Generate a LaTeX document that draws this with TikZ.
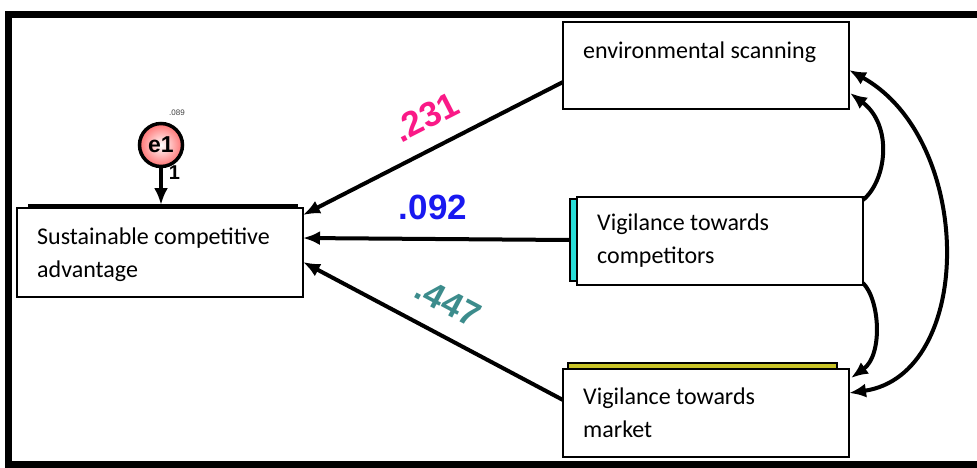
\documentclass[tikz,border=0pt]{standalone}
\usepackage{fontspec}
\setmainfont{Carlito}
\newfontfamily\arialf{Liberation Sans}
\usetikzlibrary{arrows.meta,calc}
\definecolor{pinklbl}{RGB}{250,25,135}
\definecolor{bluelbl}{RGB}{25,25,240}
\definecolor{teallbl}{RGB}{60,140,140}
\definecolor{cyanbar}{RGB}{40,220,215}
\definecolor{olivebar}{RGB}{200,195,40}
\begin{document}
\begin{tikzpicture}[x=1pt,y=-1pt,
  box/.style={draw=black,line width=1.8pt,fill=white,inner sep=0pt,outer sep=0pt},
  boxtext/.style={anchor=base west,inner sep=0pt,font=\fontsize{24}{33}\selectfont,align=left},
  path/.style={line width=4pt,-{Latex[length=17pt,width=14pt]}},
  cov/.style={line width=4pt,{Latex[length=17pt,width=14pt]}-{Latex[length=17pt,width=14pt]}},
  lbl/.style={font=\arialf\bfseries\fontsize{35}{35}\selectfont,inner sep=0pt}]
\useasboundingbox (0,0) rectangle (977,467);
\fill[white] (0,0) rectangle (977,467);
\draw[line width=7pt] (990,14) -- (8.5,14) -- (8.5,464) -- (990,464);

% boxes
\fill[black] (28,204) rectangle (298,209);
\node[box,minimum width=286pt,minimum height=89pt] (sca) at (160,252.5) {};
\node[box,minimum width=286pt,minimum height=87pt] (env) at (706,65.5) {};
\draw[line width=1.8pt,fill=cyanbar] (570,199) rectangle (577,281);
\node[box,minimum width=286pt,minimum height=88pt] (vc) at (720,241) {};
\draw[line width=1.8pt,fill=olivebar] (568,363) rectangle (837,369);
\node[box,minimum width=286pt,minimum height=88pt] (vm) at (706,413) {};

\node[boxtext] (envt) at (583,58) {environmental scanning};
\node[boxtext] (scat) at (37,277) {Sustainable competitive\\advantage};
\node[boxtext] (vct) at (597,263) {Vigilance towards\\competitors};
\node[boxtext] (vmt) at (583,437) {Vigilance towards\\market};

% error term
\node[circle,draw=black,line width=3.5pt,minimum size=43pt,inner sep=0pt,
  inner color=white,outer color=red!55,font=\arialf\bfseries\fontsize{23}{23}\selectfont] (e1) at (161,145) {e1};
\node[font=\arialf\fontsize{8}{8}\selectfont,text=black!75,inner sep=0pt] (e1v) at (177,113) {.089};
\draw[path] (e1) -- ($(sca.north)+(1,-3)$);
\node[font=\arialf\bfseries\fontsize{20}{20}\selectfont,inner sep=0pt] (one) at (174.5,173) {1};

% regression paths
\draw[path] ($(env.south west)+(0,-27)$) -- ($(sca.north east)+(0,7)$);
\draw[path] ($(vc.west)+(-7,-1)$) -- ($(sca.east)+(0,-14.5)$);
\draw[path] ($(vm.west)+(0,-13)$) -- ($(sca.east)+(0,9.5)$);

\node[lbl,text=pinklbl,rotate=27] (l1) at (426,117) {.231};
\node[lbl,text=bluelbl] (l2) at (433,207) {.092};
\node[lbl,text=teallbl,rotate=-28] (l3) at (448,302) {.447};

% covariances
\draw[path] ($(vc.north east)+(0,3)$) .. controls (887,180) and (893,125) .. ($(env.south east)+(1,-16)$);
\draw[path] ($(vc.south east)+(0,-2)$) .. controls (880,300) and (883,355) .. ($(vm.north east)+(2,9)$);
\draw[cov] ($(vm.north east)+(0,24)$) .. controls (975,375) and (975,140) .. ($(env.north east)+(0,48)$);
\end{tikzpicture}
\end{document}
